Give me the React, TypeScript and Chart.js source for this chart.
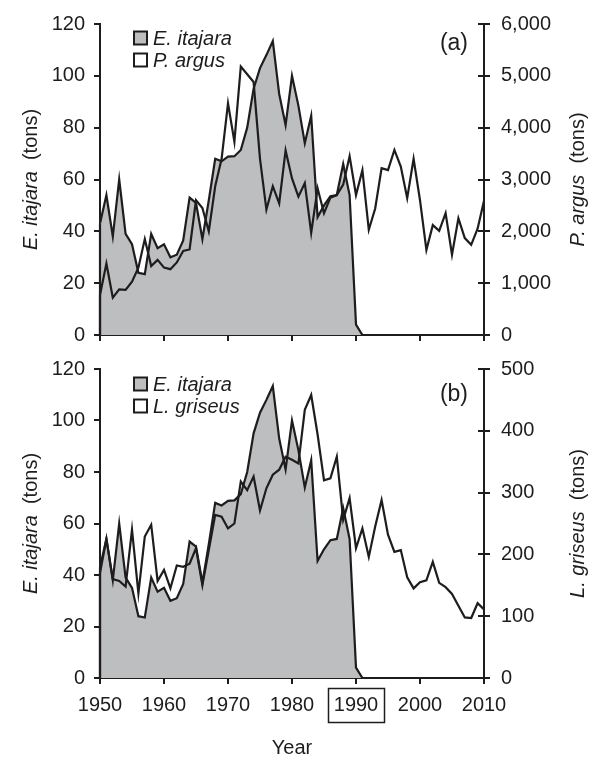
import React, { useEffect, useRef } from 'react';
import { Chart, registerables } from 'chart.js';

Chart.register(...registerables);

const years = [
  1950, 1951, 1952, 1953, 1954, 1955, 1956, 1957, 1958, 1959,
  1960, 1961, 1962, 1963, 1964, 1965, 1966, 1967, 1968, 1969,
  1970, 1971, 1972, 1973, 1974, 1975, 1976, 1977, 1978, 1979,
  1980, 1981, 1982, 1983, 1984, 1985, 1986, 1987, 1988, 1989,
  1990, 1991, 1992, 1993, 1994, 1995, 1996, 1997, 1998, 1999,
  2000, 2001, 2002, 2003, 2004, 2005, 2006, 2007, 2008, 2009,
  2010,
];

// E. itajara landings (tons), 1950-1991
const itajara = [
  43, 54, 38, 60, 39, 35, 24, 23.5, 39, 33.5,
  35, 30, 31, 36.5, 53, 51, 37, 52, 68, 67,
  68.8, 69, 71.4, 80, 95, 103, 108, 113.4, 93, 81,
  100, 88.5, 74, 84.6, 45.5, 50, 53.5, 54, 66, 54,
  4, 0,
];

// P. argus landings (tons), 1950-2010
const argus = [
  770, 1380, 720, 880, 870, 1030, 1300, 1850, 1330, 1450,
  1300, 1270, 1400, 1620, 1650, 2600, 2450, 2000, 2870, 3400,
  4470, 3730, 5180, 5030, 4880, 3400, 2420, 2870, 2540, 3560,
  3020, 2670, 2930, 1970, 2830, 2350, 2650, 2700, 2900, 3450,
  2700, 3180, 2030, 2440, 3220, 3180, 3570, 3250, 2640, 3400,
  2600, 1640, 2120, 2010, 2350, 1550, 2250, 1870, 1740, 2050,
  2590,
];

// L. griseus landings (tons), 1950-2010
const griseus = [
  170, 225, 160, 157, 148, 240, 137, 229, 248, 157,
  175, 145, 182, 180, 185, 210, 150, 207, 264, 261,
  242, 250, 318, 304, 326, 271, 307, 329, 337, 358,
  353, 347, 434, 458, 394, 320, 323, 358, 256, 291,
  210, 242, 196, 245, 288, 232, 204, 207, 163, 145,
  155, 158, 188, 154, 147, 136, 117, 98, 97, 121,
  111,
];

const xTicks = [1950, 1960, 1970, 1980, 1990, 2000, 2010];
const leftTicks = [0, 20, 40, 60, 80, 100, 120];
const argusTicks = [0, 1000, 2000, 3000, 4000, 5000, 6000];
const griseusTicks = [0, 100, 200, 300, 400, 500];

const INK = '#1f1c1d';
const GRAY = '#bdbec0';
const FONT = '"Liberation Sans", Arial, sans-serif';

const decoPlugin = {
  id: 'deco',
  afterDraw(chart: any, _args: any, opts: any) {
    const ctx = chart.ctx;
    const { left, right, top, bottom } = chart.chartArea;
    const ys = chart.scales.y;
    const y1 = chart.scales.y1;
    const xs = chart.scales.x;
    ctx.save();

    // inner halves of right-axis ticks
    ctx.strokeStyle = INK;
    ctx.lineWidth = 2;
    y1.ticks.forEach((t: any) => {
      const py = Math.round(y1.getPixelForValue(t.value));
      ctx.beginPath();
      ctx.moveTo(right - 6, py);
      ctx.lineTo(right, py);
      ctx.stroke();
    });

    // left vertical outline of the series areas
    const ds0 = chart.data.datasets[0].data[0];
    ctx.lineWidth = 2.2;
    ctx.beginPath();
    ctx.moveTo(xs.getPixelForValue(ds0.x), y1.getPixelForValue(0));
    ctx.lineTo(xs.getPixelForValue(ds0.x), y1.getPixelForValue(ds0.y));
    ctx.stroke();
    const ds1 = chart.data.datasets[1].data[0];
    ctx.beginPath();
    ctx.moveTo(xs.getPixelForValue(ds1.x), ys.getPixelForValue(0));
    ctx.lineTo(xs.getPixelForValue(ds1.x), ys.getPixelForValue(ds1.y));
    ctx.stroke();

    const drawRot = (parts: [string, string][], cx: number, cy: number) => {
      ctx.save();
      ctx.translate(cx, cy);
      ctx.rotate(-Math.PI / 2);
      ctx.textBaseline = 'middle';
      ctx.textAlign = 'left';
      ctx.fillStyle = INK;
      let total = 0;
      parts.forEach(([txt, f]) => {
        ctx.font = f;
        total += ctx.measureText(txt).width;
      });
      let x = -total / 2;
      parts.forEach(([txt, f]) => {
        ctx.font = f;
        ctx.fillText(txt, x, 0);
        x += ctx.measureText(txt).width;
      });
      ctx.restore();
    };
    const cy = (top + bottom) / 2;
    drawRot([['E. itajara', `italic 20px ${FONT}`], ['  (tons)', `20px ${FONT}`]], 31, cy);
    drawRot([[opts.rightName, `italic 20px ${FONT}`], ['  (tons)', `20px ${FONT}`]], 578, cy);

    // legend
    const items = [
      { name: 'E. itajara', fill: GRAY },
      { name: opts.rightName, fill: '#ffffff' },
    ];
    items.forEach((it, i) => {
      const yc = top + opts.legendOffset + 22 * i;
      ctx.fillStyle = it.fill;
      ctx.fillRect(left + 34, yc - 6.5, 13, 13);
      ctx.strokeStyle = INK;
      ctx.lineWidth = 2;
      ctx.strokeRect(left + 34, yc - 6.5, 13, 13);
      ctx.fillStyle = INK;
      ctx.font = `italic 20px ${FONT}`;
      ctx.textBaseline = 'middle';
      ctx.textAlign = 'left';
      ctx.fillText(it.name, left + 53, yc + 1);
    });

    // panel letter
    ctx.font = `23px ${FONT}`;
    ctx.textAlign = 'right';
    ctx.textBaseline = 'middle';
    ctx.fillStyle = INK;
    ctx.fillText(opts.letter, right - 16, top + opts.letterOffset);

    // highlighted 1990 label
    if (opts.box) {
      const cx = xs.getPixelForValue(1990);
      ctx.strokeStyle = INK;
      ctx.lineWidth = 1.5;
      ctx.strokeRect(cx - 27.5, bottom + 10.5, 56, 34);
    }
    ctx.restore();
  },
};

function makeConfig(panel: 'a' | 'b'): any {
  const second = panel === 'a' ? argus : griseus;
  const rightName = panel === 'a' ? 'P. argus' : 'L. griseus';
  const rTicks = panel === 'a' ? argusTicks : griseusTicks;
  const tickFont = { family: FONT, size: 20 };
  return {
    type: 'line',
    data: {
      datasets: [
        {
          label: rightName,
          data: years.map((yr, i) => ({ x: yr, y: second[i] })),
          yAxisID: 'y1',
          borderColor: INK,
          borderWidth: 2.2,
          pointRadius: 0,
          fill: false,
          tension: 0,
        },
        {
          label: 'E. itajara',
          data: itajara.map((v, i) => ({ x: years[i], y: v })),
          yAxisID: 'y',
          borderColor: INK,
          borderWidth: 2.2,
          backgroundColor: GRAY,
          pointRadius: 0,
          fill: 'origin',
          tension: 0,
        },
      ],
    },
    options: {
      animation: false,
      responsive: false,
      maintainAspectRatio: false,
      layout: { padding: { top: 24, left: 0, right: 0, bottom: 0 } },
      plugins: {
        legend: { display: false },
        tooltip: { enabled: false },
        deco: {
          rightName,
          letter: panel === 'a' ? '(a)' : '(b)',
          letterOffset: panel === 'a' ? 20 : 26,
          legendOffset: panel === 'a' ? 14 : 15,
          box: panel === 'b',
        },
      },
      scales: {
        x: {
          type: 'linear',
          min: xTicks[0],
          max: xTicks[xTicks.length - 1],
          afterBuildTicks: (s: any) => {
            s.ticks = xTicks.map((v) => ({ value: v }));
          },
          ticks: {
            display: panel === 'b',
            font: tickFont,
            color: INK,
            padding: 9,
            maxRotation: 0,
            callback: (v: any) => String(v),
          },
          grid: { drawOnChartArea: false, drawTicks: true, tickLength: 6, color: INK, lineWidth: 2 },
          border: { display: true, color: INK, width: 2 },
          title: {
            display: panel === 'b',
            text: 'Year',
            font: tickFont,
            color: INK,
            padding: { top: 0, bottom: 2 },
          },
          afterFit: (s: any) => {
            s.height = panel === 'a' ? 25 : 84;
          },
        },
        y: {
          position: 'left',
          min: leftTicks[0],
          max: leftTicks[leftTicks.length - 1],
          afterBuildTicks: (s: any) => {
            s.ticks = leftTicks.map((v) => ({ value: v }));
          },
          ticks: { font: tickFont, color: INK, padding: 9 },
          grid: { drawOnChartArea: false, drawTicks: true, tickLength: 6, color: INK, lineWidth: 2 },
          border: { display: true, color: INK, width: 2 },
          afterFit: (s: any) => {
            s.width = 100;
          },
        },
        y1: {
          position: 'right',
          min: rTicks[0],
          max: rTicks[rTicks.length - 1],
          afterBuildTicks: (s: any) => {
            s.ticks = rTicks.map((v) => ({ value: v }));
          },
          ticks: {
            font: tickFont,
            color: INK,
            padding: 11,
            callback: (v: any) => Number(v).toLocaleString('en-US'),
          },
          grid: { drawOnChartArea: false, drawTicks: true, tickLength: 6, color: INK, lineWidth: 2 },
          border: { display: true, color: INK, width: 2 },
          afterFit: (s: any) => {
            s.width = 110;
          },
        },
      },
    },
    plugins: [decoPlugin],
  };
}

export default function App() {
  const refA = useRef<HTMLCanvasElement>(null);
  const refB = useRef<HTMLCanvasElement>(null);

  useEffect(() => {
    document.body.style.margin = '0';
    const a = new Chart(refA.current as HTMLCanvasElement, makeConfig('a'));
    const b = new Chart(refB.current as HTMLCanvasElement, makeConfig('b'));
    return () => {
      a.destroy();
      b.destroy();
    };
  }, []);

  return (
    <div style={{ position: 'relative', width: 594, height: 762, background: '#fff', overflow: 'hidden' }}>
      <canvas
        ref={refB}
        width={594}
        height={417}
        style={{ position: 'absolute', left: 0, top: 345, width: 594, height: 417 }}
      />
      <canvas
        ref={refA}
        width={594}
        height={360}
        style={{ position: 'absolute', left: 0, top: 0, width: 594, height: 360 }}
      />
    </div>
  );
}
